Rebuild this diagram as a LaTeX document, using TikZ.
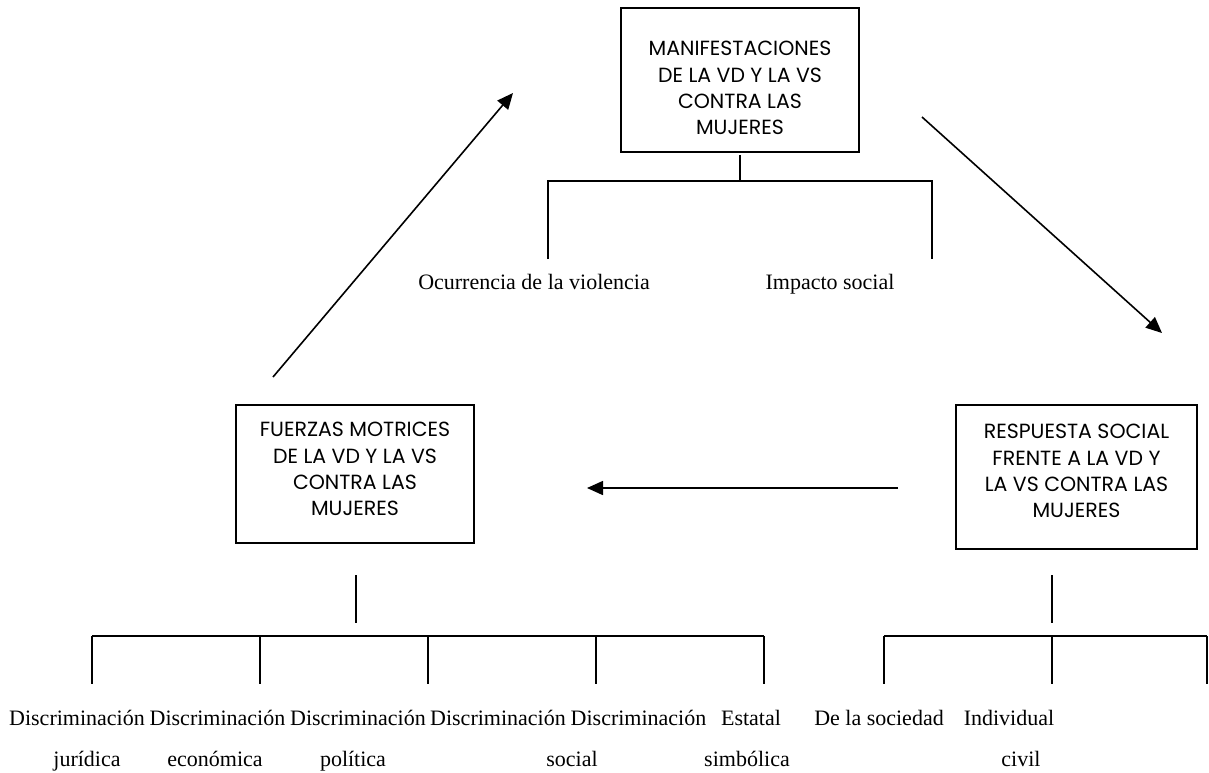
\documentclass[tikz,border=0pt]{standalone}
\usepackage{fontspec}
\setmainfont{Liberation Serif}
\newfontfamily\boxfont{Poppins}
\usetikzlibrary{arrows.meta}
\begin{document}
\begin{tikzpicture}[x=1pt,y=-1pt,
  box/.style={draw, line width=1.8pt, inner sep=0pt},
  boxtext/.style={font=\boxfont\fontsize{20.5}{26.3}\selectfont, align=center, inner sep=0pt},
  lbl/.style={font=\fontsize{22}{27}\selectfont, anchor=base, inner sep=0pt},
  arr/.style={-{Triangle[length=16pt,width=14pt]}, line width=1.6pt},
  conn/.style={line width=1.8pt}]
\useasboundingbox (0,0) rectangle (1209,772);
\fill[white] (0,0) rectangle (1209,772);

% boxes
\node[box, minimum width=238pt, minimum height=144pt] (top) at (740,80) {};
\node[boxtext] (toptext) at (740,88) {MANIFESTACIONES\\DE LA VD Y LA VS\\CONTRA LAS\\MUJERES};
\node[box, minimum width=238pt, minimum height=138pt] (left) at (355,474) {};
\node[boxtext] (lefttext) at (355,469) {FUERZAS MOTRICES\\DE LA VD Y LA VS\\CONTRA LAS\\MUJERES};
\node[box, minimum width=241pt, minimum height=144pt] (right) at (1076.5,477) {};
\node[boxtext] (righttext) at (1076.5,471) {RESPUESTA SOCIAL\\FRENTE A LA VD Y\\LA VS CONTRA LAS\\MUJERES};

% cycle arrows
\coordinate (a1s) at (273,377); \coordinate (a1e) at (513,93);
\coordinate (a2s) at (922,117); \coordinate (a2e) at (1162,333);
\coordinate (a3s) at (898,488); \coordinate (a3e) at (587,488);
\draw[arr] (a1s) -- (a1e);
\draw[arr] (a2s) -- (a2e);
\draw[arr] (a3s) -- (a3e);

% top bracket
\coordinate (tstem) at (740,181);
\coordinate (tb1) at (548,259); \coordinate (tb2) at (932,259);
\draw[conn] ([yshift=-2pt]top.south) -- (tstem);
\draw[conn] (tb1) |- (tstem) -| (tb2);
\node[lbl] (ocur) at (534,289) {Ocurrencia de la violencia};
\node[lbl] (impa) at (830,289) {Impacto social};

% left bracket
\coordinate (ls1) at (356,575); \coordinate (ls2) at (356,623);
\draw[conn] (ls1) -- (ls2);
\coordinate (lb0) at (92,636); \coordinate (lb4) at (764,636);
\draw[conn] (lb0) -- (lb4);
\foreach \x/\n in {92/a,260/b,428/c,596/d,764/e}{
  \coordinate (lv\n) at (\x,684);
  \draw[conn] (\x,636) -- (lv\n);
}

% right bracket
\coordinate (rs1) at (1052,575); \coordinate (rs2) at (1052,623);
\draw[conn] (rs1) -- (rs2);
\coordinate (rb0) at (884,636); \coordinate (rb2) at (1207,636);
\draw[conn] (rb0) -- (rb2);
\foreach \x/\n in {884/a,1052/b,1207/c}{
  \coordinate (rv\n) at (\x,684);
  \draw[conn] (\x,636) -- (rv\n);
}

% bottom labels row 1
\node[lbl] (d1) at (77,725) {Discriminación};
\node[lbl] (d2) at (217.5,725) {Discriminación};
\node[lbl] (d3) at (358,725) {Discriminación};
\node[lbl] (d4) at (498,725) {Discriminación};
\node[lbl] (d5) at (638.5,725) {Discriminación};
\node[lbl] (est) at (751,725) {Estatal};
\node[lbl] (soc) at (879,725) {De la sociedad};
\node[lbl] (ind) at (1009,725) {Individual};
% row 2
\node[lbl] (r1) at (87,766) {jurídica};
\node[lbl] (r2) at (215,766) {económica};
\node[lbl] (r3) at (353,766) {política};
\node[lbl] (r4) at (572,766) {social};
\node[lbl] (r5) at (747,766) {simbólica};
\node[lbl] (r6) at (1021,766) {civil};
\end{tikzpicture}
\end{document}
